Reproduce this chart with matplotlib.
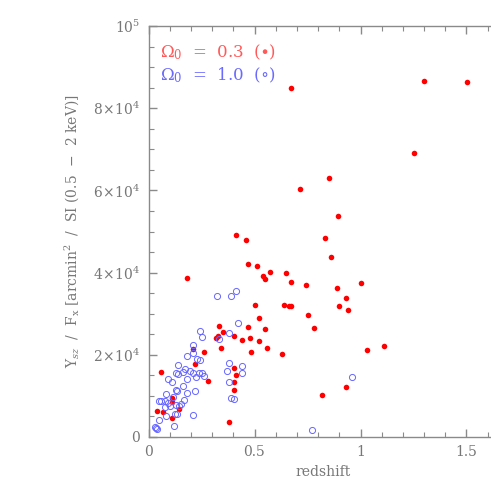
import matplotlib
matplotlib.use("Agg")
import matplotlib.pyplot as plt
from matplotlib.ticker import MultipleLocator, FixedLocator

# Omega_0 = 0.3 (filled red)
red_z = [1.301, 1.501, 0.671, 1.251, 0.851, 0.715, 0.892, 0.831, 0.411, 0.460,
         0.859, 0.471, 0.510, 0.180, 0.542, 0.551, 0.572, 0.650, 0.672, 0.741,
         0.891, 1.001, 0.501, 0.641, 0.663, 0.672, 0.930, 0.900, 0.941, 0.751,
         0.521, 0.331, 0.351, 0.318, 0.326, 0.471, 0.551, 0.781, 0.402, 0.480,
         0.441, 0.521, 0.340, 0.560, 0.482, 0.631, 1.031, 1.111, 0.260, 0.211,
         0.221, 0.281, 0.060, 0.402, 0.411, 0.402, 0.402, 0.381, 0.820, 0.932,
         0.111, 0.111, 0.042, 0.070, 0.142, 0.111]
red_y = [86.6, 86.4, 84.9, 69.1, 62.9, 60.4, 53.8, 48.5, 49.2, 47.9,
         43.9, 42.1, 41.6, 38.7, 39.2, 38.5, 40.1, 40.0, 37.7, 36.9,
         36.2, 37.5, 32.1, 32.0, 31.8, 31.8, 33.7, 31.8, 31.0, 29.8,
         29.0, 26.9, 25.6, 24.2, 24.6, 26.8, 26.3, 26.4, 24.6, 24.1,
         23.6, 23.3, 21.7, 21.6, 20.7, 20.1, 21.2, 22.2, 20.7, 21.4,
         17.8, 13.6, 15.9, 16.8, 15.2, 13.3, 11.5, 3.6, 10.1, 12.2,
         9.4, 8.6, 6.4, 6.0, 6.7, 4.6]

# Omega_0 = 1.0 (open blue)
blue_z = [0.322, 0.391, 0.411, 0.422, 0.241, 0.252, 0.381, 0.331, 0.211, 0.211,
          0.182, 0.230, 0.243, 0.141, 0.172, 0.128, 0.138, 0.161, 0.196, 0.208,
          0.223, 0.238, 0.251, 0.262, 0.091, 0.111, 0.182, 0.381, 0.372, 0.442,
          0.441, 0.381, 0.161, 0.130, 0.134, 0.221, 0.182, 0.081, 0.117, 0.391,
          0.403, 0.050, 0.060, 0.079, 0.091, 0.169, 0.152, 0.145, 0.128, 0.101,
          0.078, 0.125, 0.133, 0.211, 0.081, 0.051, 0.120, 0.031, 0.035, 0.042,
          0.961, 0.771]
blue_y = [34.3, 34.3, 35.6, 27.7, 25.7, 24.4, 25.2, 23.8, 22.3, 20.4,
          19.7, 18.9, 18.7, 17.4, 16.6, 15.5, 15.3, 15.9, 16.0, 15.5,
          14.6, 15.6, 15.5, 14.9, 14.1, 13.3, 14.1, 18.0, 16.0, 17.2,
          15.6, 13.3, 12.5, 11.4, 11.2, 11.3, 10.6, 10.4, 9.8, 9.5,
          9.2, 8.8, 8.7, 8.7, 8.3, 9.0, 8.0, 7.6, 7.7, 7.6,
          7.3, 5.7, 5.5, 5.3, 5.1, 4.1, 2.7, 2.5, 2.1, 1.9,
          14.6, 1.8]

y_ticks = [0, 20000, 40000, 60000, 80000, 100000]
y_tick_labels = ["0", r"$2\!\times\!10^4$", r"$4\!\times\!10^4$", r"$6\!\times\!10^4$",
                 r"$8\!\times\!10^4$", r"$10^5$"]
x_ticks = [0, 0.5, 1.0, 1.5]
x_tick_labels = ["0", "0.5", "1", "1.5"]

plt.rcParams['font.family'] = ['DejaVu Serif']
plt.rcParams['mathtext.fontset'] = 'dejavuserif'

gray = '#8a8a8a'
fig = plt.figure(figsize=(4.91, 4.91), dpi=100)
ax = fig.add_axes([148.5 / 491, 54 / 491, 1.65 * 212 / 491, 411 / 491])

ax.plot(red_z, [v * 1000 for v in red_y], 'o', color='#ff0000', ms=4.0, mew=0, ls='none')
ax.plot(blue_z, [v * 1000 for v in blue_y], 'o', mfc='none', mec='#6666ff', ms=4.4, mew=0.7, ls='none')

ax.set_xlim(0, 1.65)
ax.set_ylim(0, 100000)
ax.xaxis.set_major_locator(FixedLocator(x_ticks))
ax.set_xticklabels(x_tick_labels)
ax.xaxis.set_minor_locator(MultipleLocator(0.1))
ax.yaxis.set_major_locator(FixedLocator(y_ticks))
ax.set_yticklabels(y_tick_labels)
ax.yaxis.set_minor_locator(MultipleLocator(5000))

for s in ['left', 'bottom', 'top']:
    ax.spines[s].set_color(gray)
    ax.spines[s].set_linewidth(1.0)
ax.spines['right'].set_visible(False)
ax.tick_params(which='both', direction='in', colors=gray, top=True, right=False,
               labelsize=10, labelcolor='#777777')
ax.tick_params(which='major', length=6, width=1.0, pad=6)
ax.tick_params(which='minor', length=3.5, width=0.8)

ax.set_xlabel('redshift', color='#777777', fontsize=10, labelpad=4)
ax.set_ylabel(r'Y$_{sz}$  /  F$_{\rm x}$ [arcmin$^2$  /  SI (0.5  $-$  2 keV)]',
              color='#777777', fontsize=10, labelpad=8)

x0 = 12 / (1.65 * 212)
ax.text(x0, 0.935, r'$\Omega_0$  =  0.3  ($\bullet$)', transform=ax.transAxes,
        color='#ff5a5a', fontsize=12, va='center', ha='left')
ax.text(x0, 0.88, r'$\Omega_0$  =  1.0  ($\circ$)', transform=ax.transAxes,
        color='#6a6aff', fontsize=12, va='center', ha='left')

fig.savefig('out.png', dpi=100)
